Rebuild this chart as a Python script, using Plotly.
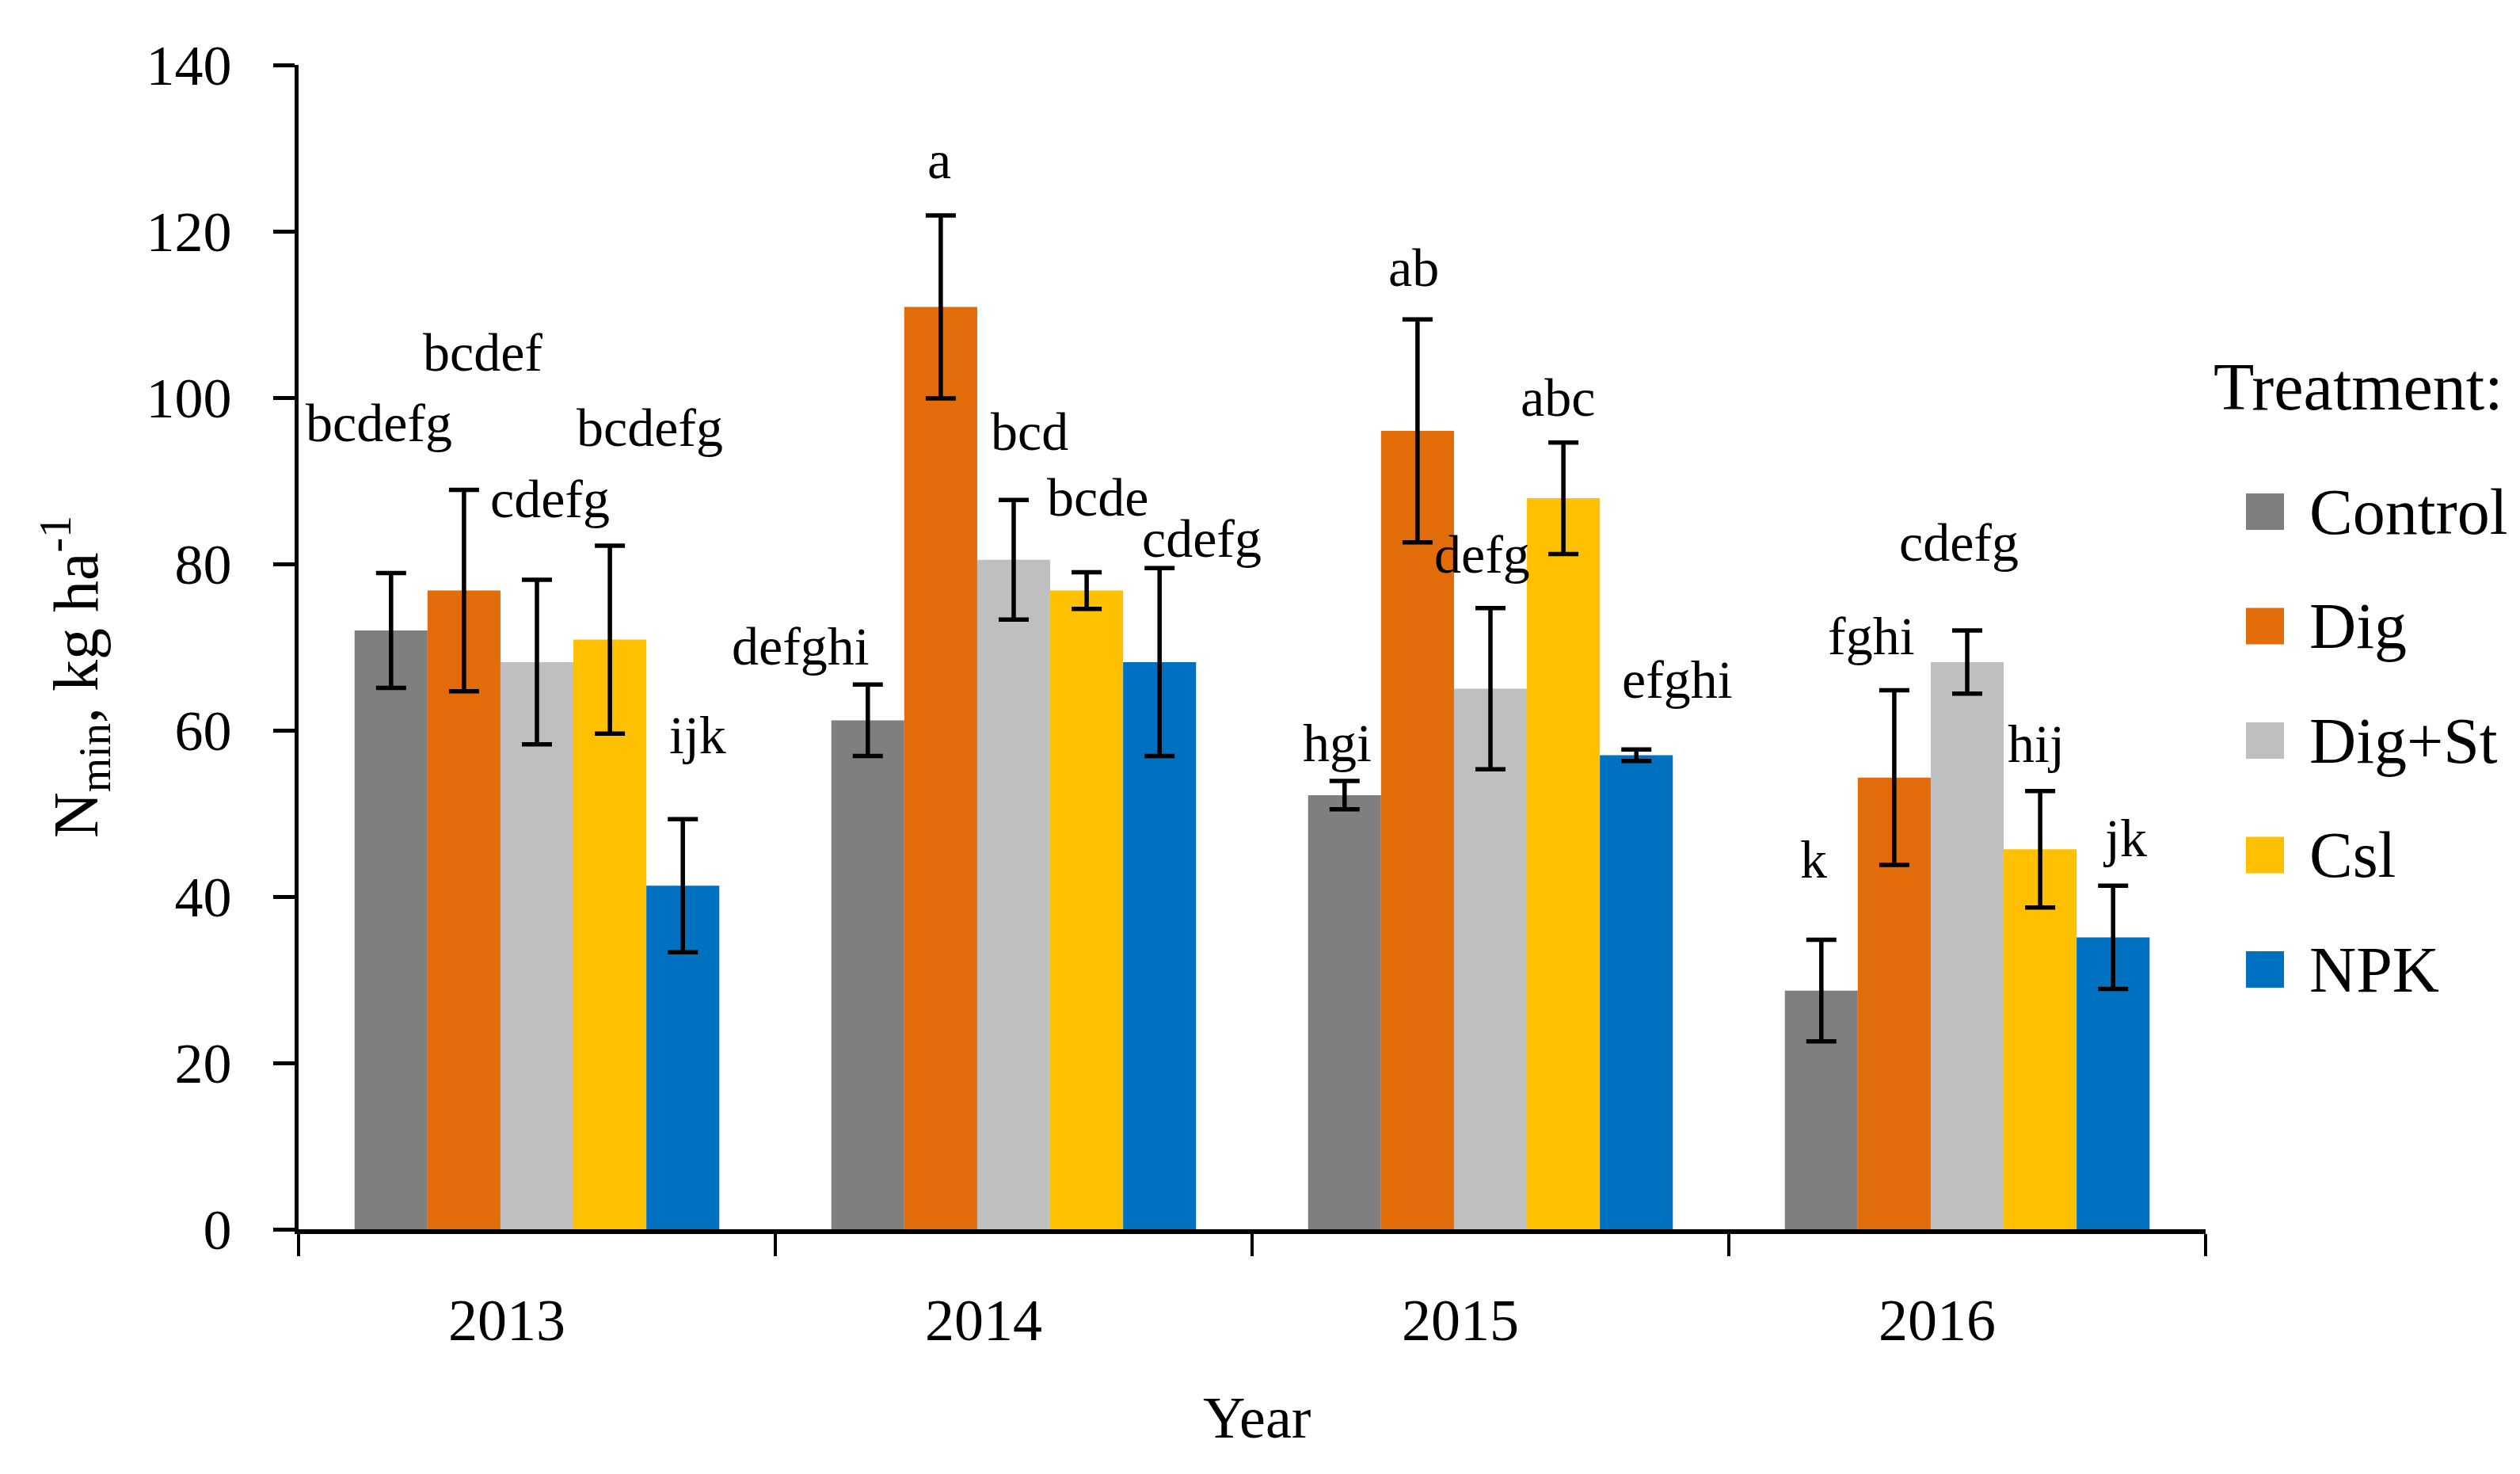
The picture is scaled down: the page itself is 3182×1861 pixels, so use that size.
import plotly.graph_objects as go

# ---------------- data ----------------
years = ["2013", "2014", "2015", "2016"]
treatments = ["Control", "Dig", "Dig+St", "Csl", "NPK"]
colors = ["#7F7F7F", "#E36C0A", "#BFBFBF", "#FFC000", "#0070C0"]

control = [72.0, 61.2, 52.2, 28.7]
dig = [76.8, 110.9, 96.0, 54.3]
digst = [68.2, 80.5, 65.0, 68.2]
csl = [70.9, 76.8, 87.9, 45.7]
npk = [41.3, 68.2, 57.0, 35.1]

control_err = [6.9, 4.3, 1.7, 6.1]
dig_err = [12.1, 11.0, 13.4, 10.5]
digst_err = [9.9, 7.2, 9.7, 3.8]
csl_err = [11.3, 2.2, 6.7, 7.0]
npk_err = [8.0, 11.3, 0.7, 6.2]

control_letters = ["bcdefg", "defghi", "hgi", "k"]
dig_letters = ["bcdef", "a", "ab", "fghi"]
digst_letters = ["cdefg", "bcd", "defg", "cdefg"]
csl_letters = ["bcdefg", "bcde", "abc", "hij"]
npk_letters = ["ijk", "cdefg", "efghi", "jk"]

control_letter_y = [96.8, 69.9, 58.3, 44.3]
dig_letter_y = [105.2, 128.4, 115.4, 71.1]
digst_letter_y = [87.6, 95.7, 81.0, 82.4]
csl_letter_y = [96.2, 87.8, 99.8, 58.2]
npk_letter_y = [59.2, 82.9, 65.9, 46.9]

y_ticks = [0, 20, 40, 60, 80, 100, 120, 140]

values = [control, dig, digst, csl, npk]
errors = [control_err, dig_err, digst_err, csl_err, npk_err]
letters = [control_letters, dig_letters, digst_letters, csl_letters, npk_letters]
letter_y = [control_letter_y, dig_letter_y, digst_letter_y, csl_letter_y, npk_letter_y]

# ---------------- layout constants (pixels) ----------------
W, H = 3182, 1861
ML, MR, MT, MB = 377, 397, 82, 309
PW = W - ML - MR
PH = H - MT - MB
BARGAP = 0.235
FONT = "Liberation Serif"

cat_px = PW / len(years)
bar_px = cat_px * (1 - BARGAP) / len(treatments)

# small horizontal nudges of the letter labels (px)
label_dx = [
    [-15, -85, -9, -10],
    [24, -2, -5, -29],
    [16, 20, -11, -11],
    [50, 14, -7, -5],
    [19, 53, 52, 15],
]

fig = go.Figure()
for i, name in enumerate(treatments):
    fig.add_trace(go.Bar(
        name=name, x=years, y=values[i],
        marker=dict(color=colors[i], line=dict(width=0)),
        error_y=dict(type="data", array=errors[i], visible=True,
                     color="black", thickness=5.5, width=19),
        showlegend=False,
    ))

annotations = []
for i in range(len(treatments)):
    for k in range(len(years)):
        # category axis: annotation x is the category's serial number
        annotations.append(dict(
            x=k, y=letter_y[i][k], xref="x", yref="y",
            text=letters[i][k], showarrow=False,
            xshift=(i - 2) * bar_px + label_dx[i][k], yshift=2,
            font=dict(family=FONT, size=68, color="black"),
            xanchor="center", yanchor="middle",
        ))

def px_x(p):
    return (p - ML) / PW

def px_y(p):
    return (H - MB - p) / PH

# custom legend
shapes = []
annotations.append(dict(
    x=px_x(2978), y=px_y(488), xref="paper", yref="paper",
    text="Treatment:", showarrow=False, xanchor="center", yanchor="middle",
    font=dict(family=FONT, size=84, color="black"),
))
leg_y0 = 646
leg_step = 144.5
for i, name in enumerate(treatments):
    cy = leg_y0 + i * leg_step
    shapes.append(dict(
        type="rect", xref="paper", yref="paper",
        x0=px_x(2836), x1=px_x(2884), y0=px_y(cy + 23), y1=px_y(cy - 23),
        fillcolor=colors[i], line=dict(width=0),
    ))
    annotations.append(dict(
        x=px_x(2914), y=px_y(cy), xref="paper", yref="paper",
        text=name, showarrow=False, xanchor="left", yanchor="middle",
        font=dict(family=FONT, size=82, color="black"),
    ))

# axis titles
annotations.append(dict(
    x=px_x(95), y=px_y(855), xref="paper", yref="paper",
    text="N<sub>min</sub>, kg ha<sup>-1</sup>", showarrow=False,
    textangle=-90, xanchor="center", yanchor="middle",
    font=dict(family=FONT, size=80, color="black"),
))
annotations.append(dict(
    x=px_x(1587), y=px_y(1790), xref="paper", yref="paper",
    text="Year", showarrow=False, xanchor="center", yanchor="middle",
    font=dict(family=FONT, size=74, color="black"),
))

fig.update_layout(
    width=W, height=H, autosize=False,
    margin=dict(l=ML, r=MR, t=MT, b=MB, pad=0),
    paper_bgcolor="white", plot_bgcolor="white",
    barmode="group", bargap=BARGAP, bargroupgap=0,
    font=dict(family=FONT, color="black"),
    annotations=annotations, shapes=shapes,
    showlegend=False,
)
fig.update_xaxes(
    type="category", range=[-0.5, len(years) - 0.5],
    showline=True, linecolor="black", linewidth=6,
    ticks="outside", tickson="boundaries", ticklen=28, tickwidth=4, tickcolor="black",
    tickfont=dict(family=FONT, size=74, color="black"), tickangle=0,
    ticklabelstandoff=45, ticklabelshift=-38, showgrid=False, zeroline=False,
)
fig.update_yaxes(
    range=[0, 140], tickvals=y_ticks, showline=True, linecolor="black", linewidth=5,
    ticks="outside", ticklen=27, tickwidth=4.6, tickcolor="black",
    tickfont=dict(family=FONT, size=72, color="black"),
    ticklabelstandoff=38, showgrid=False, zeroline=False,
)

fig.write_html("out.html", config={"displayModeBar": False},
               post_script="document.body.style.margin='0';")
